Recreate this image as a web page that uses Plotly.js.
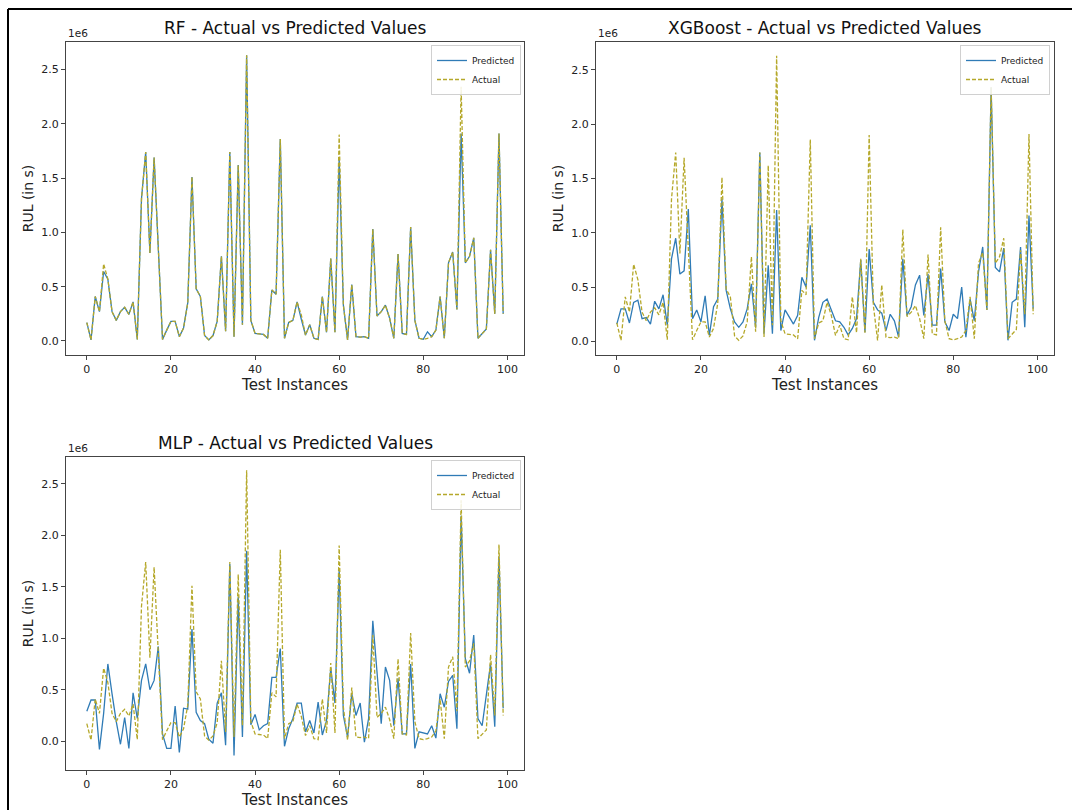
<!DOCTYPE html>
<html>
<head>
<meta charset="utf-8">
<script src="https://cdn.plot.ly/plotly-3.0.1.min.js"></script>
<style>html,body{margin:0;padding:0;background:#fff;}#chart{width:1072px;height:810px;}</style>
</head>
<body>
<div id="chart"></div>
<script>
// Test instance indices 0..99
const instances = [0,1,2,3,4,5,6,7,8,9,10,11,12,13,14,15,16,17,18,19,20,21,22,23,24,25,26,27,28,29,30,31,32,33,34,35,36,37,38,39,40,41,42,43,44,45,46,47,48,49,50,51,52,53,54,55,56,57,58,59,60,61,62,63,64,65,66,67,68,69,70,71,72,73,74,75,76,77,78,79,80,81,82,83,84,85,86,87,88,89,90,91,92,93,94,95,96,97,98,99];

// RUL values in units of 1e6 s
const actual = [0.17,0.01,0.41,0.27,0.71,0.57,0.27,0.19,0.27,0.31,0.245,0.36,0.015,1.31,1.74,0.81,1.69,0.85,0.015,0.10,
0.18,0.18,0.04,0.12,0.35,1.51,0.48,0.41,0.05,0.01,0.05,0.18,0.78,0.09,1.74,0.04,1.62,0.15,2.63,0.19,
0.07,0.065,0.06,0.025,0.47,0.43,1.86,0.025,0.17,0.19,0.36,0.24,0.055,0.15,0.025,0.015,0.41,0.08,0.76,0.08,
1.90,0.33,0.01,0.52,0.04,0.035,0.04,0.025,1.03,0.23,0.27,0.33,0.21,0.025,0.80,0.07,0.06,1.05,0.19,0.025,
0.015,0.025,0.04,0.10,0.41,0.025,0.72,0.82,0.29,2.34,0.72,0.78,0.95,0.025,0.07,0.11,0.84,0.25,1.91,0.25];

const rfPredicted = [0.17,0.01,0.41,0.27,0.64,0.57,0.27,0.19,0.27,0.31,0.245,0.36,0.015,1.31,1.74,0.81,1.69,0.85,0.015,0.10,
0.18,0.18,0.04,0.12,0.35,1.51,0.48,0.41,0.05,0.01,0.05,0.18,0.78,0.09,1.74,0.04,1.62,0.15,2.63,0.19,
0.07,0.065,0.06,0.025,0.47,0.43,1.86,0.025,0.17,0.19,0.36,0.20,0.055,0.15,0.025,0.015,0.41,0.08,0.76,0.08,
1.68,0.33,0.01,0.52,0.04,0.035,0.04,0.025,1.03,0.23,0.27,0.33,0.21,0.025,0.80,0.07,0.06,1.05,0.19,0.025,
0.015,0.085,0.04,0.10,0.41,0.025,0.72,0.82,0.29,1.91,0.72,0.78,0.95,0.025,0.07,0.11,0.84,0.25,1.91,0.25];

const xgbPredicted = [0.16,0.30,0.30,0.17,0.36,0.38,0.21,0.22,0.16,0.37,0.30,0.43,0.15,0.76,0.95,0.62,0.65,1.22,0.21,0.29,
0.18,0.42,0.055,0.32,0.39,1.31,0.47,0.30,0.18,0.13,0.18,0.30,0.53,0.13,1.74,0.07,0.70,0.07,1.21,0.10,
0.29,0.22,0.16,0.24,0.59,0.50,1.07,0.01,0.22,0.36,0.39,0.29,0.19,0.18,0.13,0.06,0.12,0.21,0.75,0.085,
0.85,0.36,0.29,0.26,0.10,0.25,0.19,0.04,0.76,0.24,0.32,0.52,0.61,0.24,0.62,0.15,0.15,0.67,0.18,0.10,
0.25,0.21,0.50,0.04,0.39,0.19,0.64,0.87,0.29,2.34,0.68,0.64,0.86,0.01,0.36,0.39,0.87,0.13,1.16,0.30];

const mlpPredicted = [0.29,0.40,0.40,-0.08,0.27,0.75,0.46,0.19,-0.03,0.23,-0.07,0.47,0.22,0.59,0.75,0.50,0.59,0.92,0.07,-0.07,
-0.07,0.34,-0.11,0.32,0.31,1.09,0.28,0.20,0.17,0.02,-0.02,0.37,0.47,-0.04,1.72,-0.14,1.40,0.04,1.85,0.16,
0.26,0.11,0.15,0.17,0.62,0.62,0.90,-0.05,0.12,0.22,0.37,0.37,0.09,0.20,0.08,0.38,0.06,0.20,0.71,0.37,
1.66,0.25,0.04,0.46,0.25,0.37,-0.01,0.22,1.17,0.69,0.17,0.72,0.59,0.15,0.61,0.07,0.07,0.75,-0.07,0.09,
0.08,0.07,0.15,0.03,0.46,0.33,0.58,0.64,0.12,2.19,0.80,0.66,1.03,0.22,0.15,0.46,0.75,0.14,1.79,0.32];

const modelNames = ['RF','XGBoost','MLP'];
const xTickVals = [0,20,40,60,80,100];
const yTickVals = [0,0.5,1.0,1.5,2.0,2.5];
const yTickText = ['0.0','0.5','1.0','1.5','2.0','2.5'];

const W = 1072, H = 810;
const px = v => v / W;
const py = v => 1 - v / H;

const BLUE = '#2f7bb6';
const OLIVE = '#b5a82a';
const FONT = 'DejaVu Sans, sans-serif';

const preds = [rfPredicted, xgbPredicted, mlpPredicted];
const axes = [
  {xa:'x', ya:'y', xd:[66,524], yd:[42,355], yr:[-0.129,2.753], leg:'legend'},
  {xa:'x2', ya:'y2', xd:[596,1054], yd:[42,355], yr:[-0.125,2.757], leg:'legend2'},
  {xa:'x3', ya:'y3', xd:[66,524], yd:[457,770], yr:[-0.28,2.76], leg:'legend3'}
];

const traces = [];
axes.forEach((a, k) => {
  traces.push({x: instances, y: preds[k], type:'scatter', mode:'lines', name:'Predicted',
    xaxis:a.xa, yaxis:a.ya, legend:a.leg, line:{color:BLUE, width:1.3}});
  traces.push({x: instances, y: actual, type:'scatter', mode:'lines', name:'Actual',
    xaxis:a.xa, yaxis:a.ya, legend:a.leg, line:{color:OLIVE, width:1.3, dash:'4px,2px'}});
});

const layout = {
  width: W, height: H,
  margin:{l:0,r:0,t:0,b:0},
  paper_bgcolor:'#fff', plot_bgcolor:'#fff',
  font:{family:FONT, color:'#222', size:11},
  annotations: [], shapes: []
};

const legendPos = [[521,45],[1050,45],[521,460]];

axes.forEach((a, k) => {
  const sx = k === 0 ? '' : String(k+1);
  layout['xaxis'+sx] = {
    domain:[px(a.xd[0]), px(a.xd[1])], range:[-4.95,103.95], anchor:a.ya,
    tickvals:xTickVals, ticks:'outside', ticklen:4, tickwidth:1, tickcolor:'#444',
    showline:true, mirror:true, linecolor:'#444', linewidth:1,
    showgrid:false, zeroline:false, tickfont:{size:11, color:'#222', family:FONT},
    title:{text:'Test Instances', font:{size:15, color:'#222', family:FONT}, standoff:3}
  };
  layout['yaxis'+sx] = {
    domain:[py(a.yd[1]), py(a.yd[0])], range:a.yr, anchor:a.xa,
    tickvals:yTickVals, ticktext:yTickText, ticks:'outside', ticklen:4, tickwidth:1, tickcolor:'#444',
    showline:true, mirror:true, linecolor:'#444', linewidth:1,
    showgrid:false, zeroline:false, tickfont:{size:11, color:'#222', family:FONT},
    title:{text:'RUL (in s)', font:{size:14, color:'#222', family:FONT}, standoff:4}
  };

  layout[a.leg] = {
    x: px(legendPos[k][0]), y: py(legendPos[k][1]), xanchor:'right', yanchor:'top',
    xref:'paper', yref:'paper',
    bgcolor:'rgba(255,255,255,0.85)', bordercolor:'#d0d0d0', borderwidth:1,
    font:{size:9, color:'#222', family:FONT}, tracegroupgap:0, itemwidth:30
  };

  layout.annotations.push({
    text: modelNames[k] + ' - Actual vs Predicted Values',
    x: px((a.xd[0]+a.xd[1])/2), y: py(a.yd[0]-2), xref:'paper', yref:'paper',
    xanchor:'center', yanchor:'bottom', showarrow:false,
    font:{size:17, color:'#111', family:FONT}
  });
  layout.annotations.push({
    text:'1e6', x: px(a.xd[0]), y: py(a.yd[0]-1), xref:'paper', yref:'paper',
    xanchor:'left', yanchor:'bottom', showarrow:false,
    font:{size:10.5, color:'#222', family:FONT}
  });
});

// outer frame (left and top edges visible)
layout.shapes.push({type:'line', xref:'paper', yref:'paper', x0:px(8), x1:px(8), y0:0, y1:py(9), line:{color:'#000', width:2}});
layout.shapes.push({type:'line', xref:'paper', yref:'paper', x0:px(8), x1:1, y0:py(9), y1:py(9), line:{color:'#000', width:2}});

Plotly.newPlot('chart', traces, layout, {displayModeBar:false, staticPlot:true});
</script>
</body>
</html>
